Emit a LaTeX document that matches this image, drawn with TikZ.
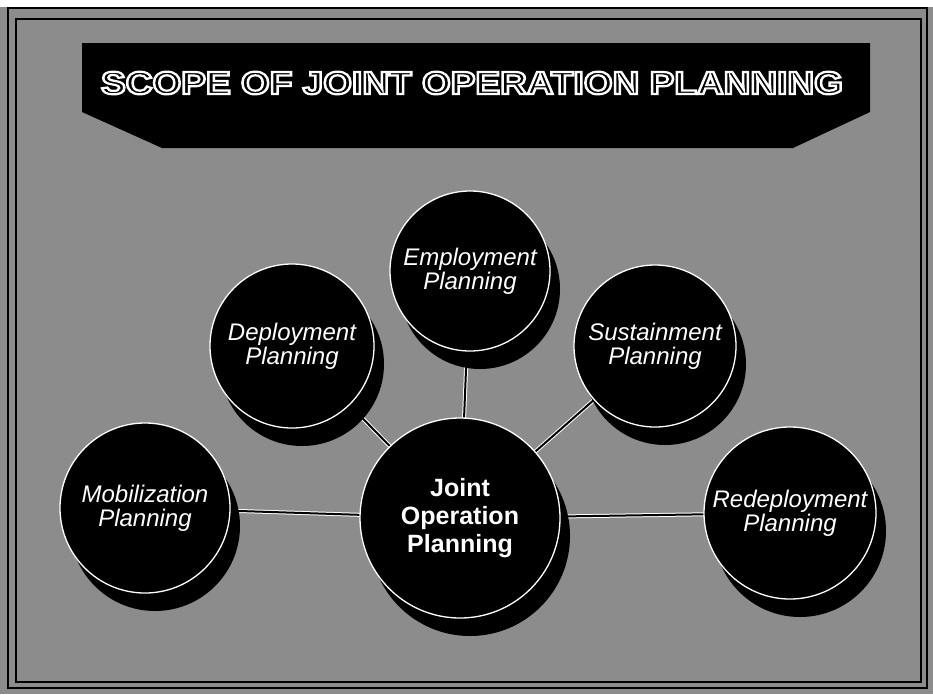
\documentclass[tikz,border=0pt]{standalone}
\usepackage{fontspec}
\setmainfont{Liberation Sans}
\usetikzlibrary{shadows}
\pgfdeclarelayer{bg}
\pgfdeclarelayer{links}
\pgfsetlayers{bg,links,main}
\newcommand{\outlinetext}[1]{\special{pdf:literal direct 2 Tr 1 G 2.2 w}#1\special{pdf:literal direct 0 Tr}}
\begin{document}
\begin{tikzpicture}[x=1pt,y=-1pt,
  disk/.style={circle, fill=black, draw=white, line width=1.3pt, text=white,
    align=center, inner sep=0pt, font=\fontsize{24}{24}\selectfont\itshape,
    drop shadow={shadow xshift=10pt, shadow yshift=-18pt, opacity=1, fill=black}},
  link/.style={draw=white, line width=1pt, double=black, double distance=2pt},
  banner/.style={fill=black},
  frameline/.style={draw=black}
]
\useasboundingbox (0,0) rectangle (933,694);
\begin{pgfonlayer}{bg}
  \fill[white] (0,0) rectangle (933,694);
  \fill[black!45] (0,7) rectangle (933,694);
  \draw[frameline, line width=2pt] (8,8) rectangle (927,688);
  \draw[frameline, line width=1.5pt] (16,19) rectangle (921,682);
\end{pgfonlayer}

% title banner
\fill[banner] (82,43) -- (870,43) -- (870,112) -- (793,148) -- (162,148) -- (82,112) -- cycle;
\node[text=black, font=\fontsize{32}{32}\selectfont\bfseries, inner sep=0pt] (title) at (472,83)
  {\scalebox{1.157}[1]{\outlinetext{SCOPE OF JOINT OPERATION PLANNING}}};

% circles
\node[disk, minimum size=160pt] (emp) at (470,271) {Employment\\Planning};
\node[disk, minimum size=164pt] (dep) at (292,346) {Deployment\\Planning};
\node[disk, minimum size=162pt] (sus) at (655,346) {Sustainment\\Planning};
\node[disk, minimum size=170pt] (mob) at (145,508) {Mobilization\\Planning};
\node[disk, minimum size=172pt] (red) at (790,513) {Redeployment\\Planning};
\node[disk, minimum size=200pt, font=\fontsize{25}{28}\selectfont\bfseries] (jop) at (460,518) {Joint\\Operation\\Planning};

% connectors
\begin{pgfonlayer}{links}
  \draw[link] (jop.center) -- (emp.center);
  \draw[link] (jop.center) -- (dep.center);
  \draw[link] (jop.center) -- (sus.center);
  \draw[link] (jop.center) -- (mob.center);
  \draw[link] (jop.center) -- (red.center);
\end{pgfonlayer}
\end{tikzpicture}
\end{document}
